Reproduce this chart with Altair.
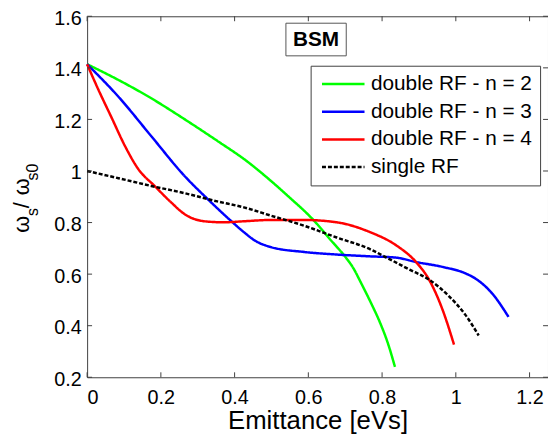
import altair as alt
import pandas as pd

# ---------------- data ----------------
series_names = ["double RF - n = 2", "double RF - n = 3", "double RF - n = 4", "single RF"]
series_colors = ["#00ff00", "#0000ff", "#ff0000", "#000000"]
series_dash = [[1, 0], [1, 0], [1, 0], [4, 2]]

green_x = [0, 0.085, 0.174, 0.264, 0.353, 0.436, 0.49, 0.543, 0.615, 0.659, 0.704, 0.72, 0.745, 0.77, 0.795, 0.815, 0.835]
green_y = [1.414, 1.353, 1.282, 1.201, 1.117, 1.035, 0.972, 0.905, 0.808, 0.735, 0.66, 0.628, 0.56, 0.488, 0.41, 0.335, 0.24]

blue_x = [0, 0.085, 0.174, 0.264, 0.327, 0.389, 0.425, 0.454, 0.498, 0.588, 0.677, 0.767, 0.838, 0.892, 0.964, 1.026, 1.053, 1.098, 1.143]
blue_y = [1.414, 1.288, 1.135, 0.981, 0.891, 0.808, 0.763, 0.731, 0.705, 0.686, 0.676, 0.669, 0.664, 0.647, 0.628, 0.603, 0.583, 0.526, 0.434]

red_x = [0, 0.031, 0.067, 0.103, 0.139, 0.183, 0.228, 0.264, 0.318, 0.371, 0.425, 0.498, 0.588, 0.677, 0.767, 0.838, 0.892, 0.928, 0.964, 0.995]
red_y = [1.414, 1.314, 1.205, 1.096, 1.007, 0.942, 0.878, 0.833, 0.805, 0.801, 0.805, 0.81, 0.81, 0.801, 0.763, 0.712, 0.647, 0.577, 0.462, 0.327]

black_x = [0, 0.085, 0.174, 0.264, 0.353, 0.425, 0.498, 0.588, 0.677, 0.767, 0.811, 0.874, 0.928, 0.981, 1.026, 1.062]
black_y = [1.0, 0.972, 0.942, 0.914, 0.882, 0.859, 0.827, 0.788, 0.742, 0.697, 0.665, 0.618, 0.578, 0.515, 0.442, 0.362]

x_ticks = [0, 0.2, 0.4, 0.6, 0.8, 1.0, 1.2]
y_ticks = [0.2, 0.4, 0.6, 0.8, 1.0, 1.2, 1.4, 1.6]
x_title = "Emittance [eVs]"
y_title_parts = ["ω", "s", "/", "ω", "s0"]
annotation = ["BSM"]

# ---------------- build table ----------------
rows = []
for name, xs, ys in zip(series_names, [green_x, blue_x, red_x, black_x], [green_y, blue_y, red_y, black_y]):
    for i, (a, b) in enumerate(zip(xs, ys)):
        rows.append({"series": name, "emittance": a, "ratio": b, "order": i})
df = pd.DataFrame(rows)

W, H = 466, 365
FONT = "Liberation Sans"
xscale = alt.Scale(domain=[0, 1.25], nice=False, zero=False)
yscale = alt.Scale(domain=[0.2, 1.6], nice=False, zero=False)
x_axis = alt.Axis(values=x_ticks, format="~g", title=x_title, labelPadding=11,
                  titleFontSize=26, titleY=52, titleBaseline="alphabetic")
y_axis = alt.Axis(values=y_ticks, format="~g", title=None, labelPadding=6, labelOffset=2)

lines = alt.Chart(df).mark_line(strokeWidth=2.5, interpolate="monotone").encode(
    x=alt.X("emittance:Q", scale=xscale, axis=x_axis),
    y=alt.Y("ratio:Q", scale=yscale, axis=y_axis),
    color=alt.Color("series:N", scale=alt.Scale(domain=series_names, range=series_colors), title=None),
    strokeDash=alt.StrokeDash("series:N", scale=alt.Scale(domain=series_names, range=series_dash), title=None),
    order="order:Q",
)

tick_color = "#404040"
xt = pd.DataFrame({"t": x_ticks})
yt = pd.DataFrame({"t": y_ticks})
bottom_ticks = alt.Chart(xt).mark_rule(color=tick_color, strokeWidth=1).encode(
    x=alt.X("t:Q", scale=xscale, axis=x_axis), y=alt.value(H), y2=alt.value(H - 5))
top_ticks = alt.Chart(xt).mark_rule(color=tick_color, strokeWidth=1).encode(
    x=alt.X("t:Q", scale=xscale, axis=x_axis), y=alt.value(0), y2=alt.value(5))
left_ticks = alt.Chart(yt).mark_rule(color=tick_color, strokeWidth=1).encode(
    y=alt.Y("t:Q", scale=yscale, axis=y_axis), x=alt.value(0), x2=alt.value(5))
right_ticks = alt.Chart(yt).mark_rule(color=tick_color, strokeWidth=1).encode(
    y=alt.Y("t:Q", scale=yscale, axis=y_axis), x=alt.value(W), x2=alt.value(W - 5))

ann_df = pd.DataFrame({"label": annotation})
bsm_box = alt.Chart(ann_df).mark_rect(fill="white", stroke="#555555", strokeWidth=1).encode(
    x=alt.value(201), x2=alt.value(262), y=alt.value(7), y2=alt.value(40))
bsm_text = alt.Chart(ann_df).mark_text(font=FONT, fontSize=21, fontWeight="bold", align="center",
                                       baseline="middle", color="black").encode(
    text="label:N", x=alt.value(231.5), y=alt.value(24))

# y-axis title built from pieces (subscripts)
yt_specs = [  # (text, x baseline, y start, size)
    (y_title_parts[0], -59, 219, 22),
    (y_title_parts[1], -50, 202, 16),
    (y_title_parts[2], -59, 194, 22),
    (y_title_parts[3], -59, 181, 22),
    (y_title_parts[4], -50, 166, 16),
]
ytitle_layers = []
for txt, xp, yp, fs in yt_specs:
    ytitle_layers.append(
        alt.Chart(ann_df).mark_text(font=FONT, fontSize=fs, angle=270, align="left",
                                    baseline="alphabetic", color="black").encode(
            text=alt.value(txt), x=alt.value(xp), y=alt.value(yp)))

chart = alt.layer(
    lines, bottom_ticks, top_ticks, left_ticks, right_ticks, bsm_box, bsm_text, *ytitle_layers
).properties(
    width=W, height=H,
    padding={"left": 80, "top": 6, "right": 0, "bottom": 56},
    autosize=alt.AutoSizeParams(type="none"),
).configure_view(
    stroke="#404040", strokeWidth=1
).configure_axis(
    domain=False, ticks=False, grid=False,
    labelFont=FONT, labelFontSize=20, labelColor="black",
    titleFont=FONT, titleColor="black", titleFontWeight="normal",
).configure_legend(
    orient="none", legendX=226, legendY=50,
    strokeColor="#404040", fillColor="white", padding=8,
    labelFont=FONT, labelFontSize=21, labelColor="black", labelLimit=400,
    symbolType="M-1,0H5.14", symbolSize=196, symbolStrokeWidth=2.5,
    labelOffset=32, rowPadding=6,
)

chart.save("out.html", embed_options={"renderer": "svg", "actions": False})
